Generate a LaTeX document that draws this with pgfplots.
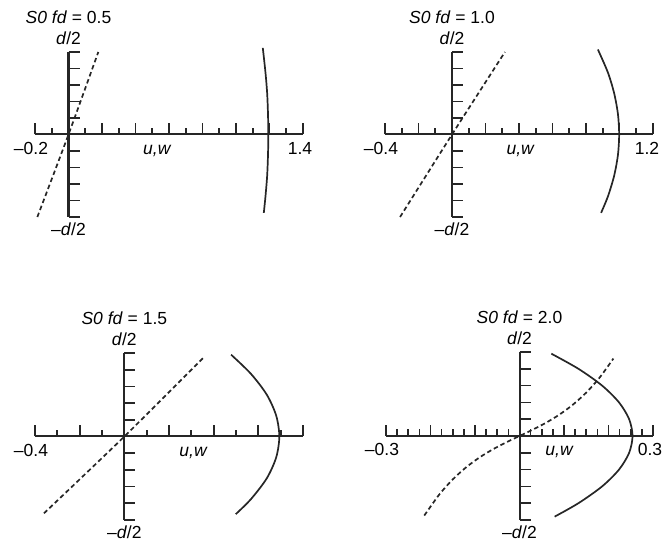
\documentclass[border=0pt]{standalone}
\usepackage{fontspec}
\setmainfont{Liberation Sans}
\usepackage{pgfplots}
\pgfplotsset{compat=1.18}
\definecolor{ink}{HTML}{262626}

\pgfplotsset{
  panel/.style={
    scale only axis, anchor=south west, clip=false,
    axis lines=middle, axis line style={-, draw=ink, line width=2pt},
    ymin=-1, ymax=1,
    ytick={-1,-0.8,-0.6,-0.4,-0.2,0.2,0.4,0.6,0.8,1},
    xticklabels={}, yticklabels={},
    tick align=inside,
    major tick length=11pt, minor tick length=6.5pt,
    every tick/.style={draw=ink, line width=1.7pt},
  },
  full/.style={ink, line width=1.7pt, smooth, no marks},
  dash/.style={ink, line width=1.7pt, dash pattern=on 4.5pt off 3pt, smooth, no marks},
}
\tikzset{lbl/.style={anchor=base, text=black}}
\newcommand{\Title}[1]{\node[lbl, yshift=28pt] at (axis cs:0,1) {\textit{S0 fd} = #1};
  \node[lbl, yshift=7pt] at (axis cs:0,1) {\textit{d}/2};
  \node[lbl, yshift=-19pt] at (axis cs:0,-1) {\textendash\textit{d}/2};}

\begin{document}
\fontsize{17.5}{20}\selectfont
\begin{tikzpicture}
\useasboundingbox (0,0) rectangle (669pt,551pt);

% fd = 0.5
\begin{axis}[panel, at={(35pt,334pt)}, width=268pt, height=165pt,
  xmin=-0.2, xmax=1.4, xtick={-0.2,0,0.2,0.4,0.6,0.8,1,1.2,1.4}, minor x tick num=1]
\addplot[dash] coordinates {(-0.186,-1) (0,0) (0.178,1)};
\addplot[full] coordinates {(1.166,-0.95) (1.176,-0.75) (1.186,-0.5) (1.191,-0.25) (1.193,0)
  (1.191,0.25) (1.186,0.5) (1.176,0.75) (1.160,1.05)};
\Title{0.5}
\node[lbl, yshift=-20pt, xshift=-4pt] at (axis cs:-0.2,0) {\textendash0.2};
\node[lbl, yshift=-20pt, xshift=-3pt] at (axis cs:1.4,0) {1.4};
\node[lbl, yshift=-20pt] at (axis cs:0.53,0) {\textit{u,w}};
\end{axis}

% fd = 1.0
\begin{axis}[panel, at={(385pt,334pt)}, width=268pt, height=165pt,
  xmin=-0.4, xmax=1.2, xtick={-0.4,-0.2,0,0.2,0.4,0.6,0.8,1,1.2}, minor x tick num=1]
\addplot[dash] coordinates {(-0.31,-1) (0,0) (0.316,1)};
\addplot[full] coordinates {(0.890,-0.95) (0.931,-0.75) (0.968,-0.5) (0.9905,-0.25) (0.998,0)
  (0.9905,0.25) (0.968,0.5) (0.931,0.75) (0.871,1.03)};
\Title{1.0}
\node[lbl, yshift=-20pt, xshift=-4pt] at (axis cs:-0.4,0) {\textendash0.4};
\node[lbl, yshift=-20pt, xshift=-6pt] at (axis cs:1.2,0) {1.2};
\node[lbl, yshift=-20pt] at (axis cs:0.41,0) {\textit{u,w}};
\end{axis}

% fd = 1.5
\begin{axis}[panel, at={(35pt,31pt)}, width=268pt, height=167pt,
  xmin=-0.4, xmax=0.8, xtick={-0.4,-0.2,0,0.2,0.4,0.6,0.8}, minor x tick num=1]
\addplot[dash] coordinates {(-0.36,-0.92) (0,0) (0.36,0.96)};
\addplot[full] coordinates {(0.499,-0.93) (0.567,-0.75) (0.638,-0.5) (0.680,-0.25) (0.694,0)
  (0.680,0.25) (0.638,0.5) (0.567,0.75) (0.478,0.98)};
\Title{1.5}
\node[lbl, yshift=-20pt, xshift=-4pt] at (axis cs:-0.4,0) {\textendash0.4};
\node[lbl, yshift=-20pt] at (axis cs:0.31,0) {\textit{u,w}};
\end{axis}

% fd = 2.0
\begin{axis}[panel, at={(386pt,31pt)}, width=267pt, height=168pt,
  xmin=-0.3, xmax=0.3, xtick={-0.3,-0.2,-0.1,0,0.1,0.2,0.3}, minor x tick num=3]
\addplot[dash] coordinates {(-0.214,-0.947) (-0.18,-0.695) (-0.15,-0.517) (-0.12,-0.373)
  (-0.09,-0.256) (-0.06,-0.159) (-0.03,-0.076) (0,0) (0.03,0.076) (0.06,0.159) (0.09,0.256)
  (0.12,0.373) (0.15,0.517) (0.18,0.695) (0.211,0.922)};
\addplot[full] coordinates {(0.079,-0.96) (0.1324,-0.8) (0.1856,-0.6) (0.2236,-0.4) (0.2464,-0.2)
  (0.254,0) (0.2464,0.2) (0.2236,0.4) (0.1856,0.6) (0.1324,0.8) (0.0715,0.98)};
\Title{2.0}
\node[lbl, yshift=-20pt, xshift=-4pt] at (axis cs:-0.3,0) {\textendash0.3};
\node[lbl, yshift=-20pt, xshift=-3pt] at (axis cs:0.3,0) {0.3};
\node[lbl, yshift=-20pt] at (axis cs:0.09,0) {\textit{u,w}};
\end{axis}
\end{tikzpicture}
\end{document}
